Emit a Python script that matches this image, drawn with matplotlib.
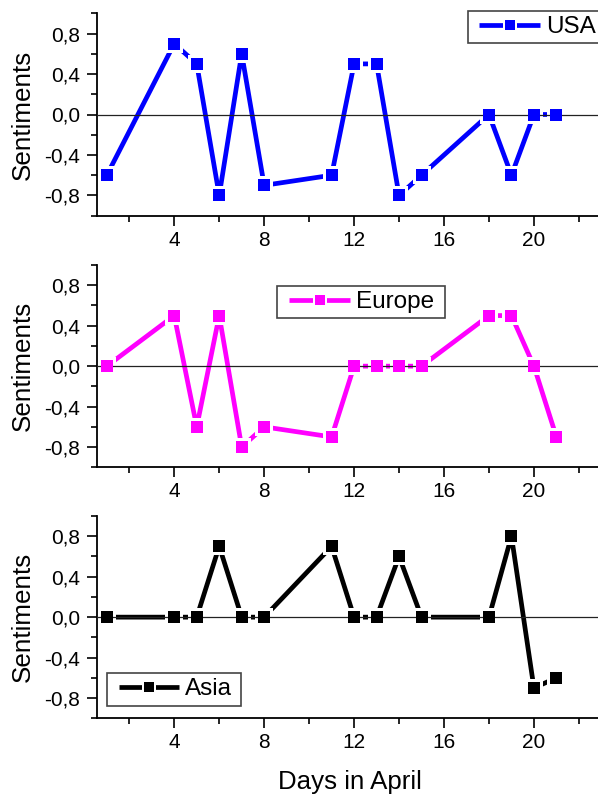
import matplotlib
matplotlib.use("Agg")
import matplotlib.pyplot as plt
from matplotlib.ticker import FixedLocator, FixedFormatter
from matplotlib.lines import Line2D
from matplotlib.patches import Rectangle
from matplotlib.legend_handler import HandlerTuple

plt.rcParams['font.family'] = ['Liberation Sans', 'DejaVu Sans']

days = [1, 4, 5, 6, 7, 8, 11, 12, 13, 14, 15, 18, 19, 20, 21]
usa = [-0.6, 0.7, 0.5, -0.8, 0.6, -0.7, -0.6, 0.5, 0.5, -0.8, -0.6, 0.0, -0.6, 0.0, 0.0]
europe = [0.0, 0.5, -0.6, 0.5, -0.8, -0.6, -0.7, 0.0, 0.0, 0.0, 0.0, 0.5, 0.5, 0.0, -0.7]
asia = [0.0, 0.0, 0.0, 0.7, 0.0, 0.0, 0.7, 0.0, 0.0, 0.6, 0.0, 0.0, 0.8, -0.7, -0.6]

series_names = ["USA", "Europe", "Asia"]
series_values = [usa, europe, asia]
series_colors = ["#0000FF", "#FF00FF", "#000000"]

xticks_major = [4, 8, 12, 16, 20]
xtick_labels = ["4", "8", "12", "16", "20"]
xticks_minor = [2, 6, 10, 14, 18, 22]
yticks_major = [-0.8, -0.4, 0.0, 0.4, 0.8]
ytick_labels = ["-0,8", "-0,4", "0,0", "0,4", "0,8"]
yticks_minor = [-1.0, -0.6, -0.2, 0.2, 0.6, 1.0]

W, H = 598, 798
fig = plt.figure(figsize=(W / 100, H / 100), dpi=100)

# axes boxes in pixels: (left, top, right, bottom)
boxes = [(96.7, 13.3, 598, 215.7), (96.7, 265, 598, 467.3), (96.7, 516, 598, 718.3)]
# legend frames in pixels: (left, top, right, bottom) and handle start x
legend_frames = [(468.3, 11, 640, 43.3), (277.3, 286, 445, 318.3), (107.3, 672.7, 241, 705.7)]
legend_handle_x = [479.3, 289.3, 118.5]

LW = 3.4
MS = 8.6
GAP_MS = 13.0

for i, (name, vals, col) in enumerate(zip(series_names, series_values, series_colors)):
    l, t, r, b = boxes[i]
    ax = fig.add_axes([l / W, 1 - b / H, (r - l) / W, (b - t) / H])
    ax.set_xlim(0.55, 22.85)
    ax.set_ylim(-1.0, 1.0)
    ax.plot(days, vals, color=col, lw=LW, zorder=2, solid_capstyle='butt')
    ax.plot(days, vals, ls='none', marker='s', ms=GAP_MS, mfc='white', mec='white', mew=0, zorder=3)
    ax.axhline(0, color='#222222', lw=0.9, zorder=3.5)
    ax.plot(days, vals, ls='none', marker='s', ms=MS, mfc=col, mec=col, mew=0, zorder=4)

    ax.xaxis.set_major_locator(FixedLocator(xticks_major))
    ax.xaxis.set_major_formatter(FixedFormatter(xtick_labels))
    ax.xaxis.set_minor_locator(FixedLocator(xticks_minor))
    ax.yaxis.set_major_locator(FixedLocator(yticks_major))
    ax.yaxis.set_major_formatter(FixedFormatter(ytick_labels))
    ax.yaxis.set_minor_locator(FixedLocator(yticks_minor))
    ax.tick_params(which='major', direction='out', length=7.2, width=1.2, labelsize=15)
    ax.tick_params(axis='x', which='major', pad=3.6)
    ax.tick_params(axis='y', which='major', pad=5.0)
    ax.tick_params(which='minor', direction='out', length=4.0, width=1.2)
    for s in ['top', 'right']:
        ax.spines[s].set_visible(False)
    for s in ['left', 'bottom']:
        ax.spines[s].set_linewidth(1.3)
    ax.set_ylabel("Sentiments", fontsize=18.7)
    ax.yaxis.set_label_coords(23.3 / W, 1 - (t + b) / 2 / H, transform=fig.transFigure)
    ax.yaxis.label.set_va('center')
    if i == 2:
        ax.set_xlabel("Days in April", fontsize=18.6)
        ax.xaxis.set_label_coords(350 / W, 1 - 781.7 / H, transform=fig.transFigure)
        ax.xaxis.label.set_va('center')

    fl, ft, fr, fb = legend_frames[i]
    fig.patches.append(Rectangle((fl / W, 1 - fb / H), (fr - fl) / W, (fb - ft) / H,
                                 transform=fig.transFigure, facecolor='white',
                                 edgecolor='#444444', lw=1.2, zorder=5))
    h_line = Line2D([0], [0], color=col, lw=LW, solid_capstyle='butt')
    h_gap = Line2D([0], [0], ls='none', marker='s', ms=GAP_MS - 2.5, mfc='white', mec='white', mew=0)
    h_mk = Line2D([0], [0], ls='none', marker='s', ms=MS - 1, mfc=col, mec=col, mew=0)
    leg = fig.legend([(h_line, h_gap, h_mk)], [name], loc='center left',
                     handler_map={tuple: HandlerTuple(ndivide=1, pad=0)},
                     bbox_to_anchor=(legend_handle_x[i] / W, 1 - (ft + fb) / 2 / H),
                     bbox_transform=fig.transFigure,
                     fontsize=17.5, frameon=False, handlelength=2.5,
                     handletextpad=0.25, borderpad=0, borderaxespad=0)
    leg.set_zorder(6)

fig.savefig("out.png", dpi=100)
